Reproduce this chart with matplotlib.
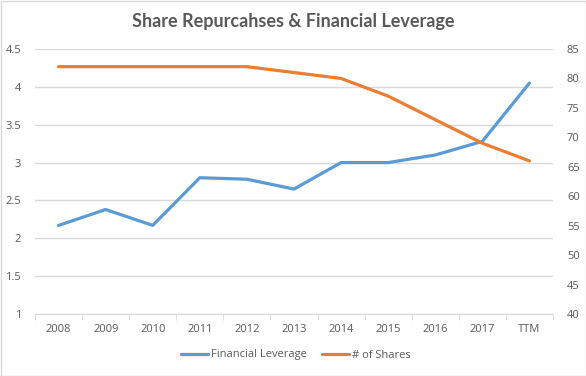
import matplotlib
matplotlib.use("Agg")
import matplotlib.pyplot as plt
from matplotlib.ticker import FixedLocator
import numpy as np

categories = ["2008", "2009", "2010", "2011", "2012", "2013", "2014", "2015", "2016", "2017", "TTM"]
leverage = [2.17, 2.38, 2.17, 2.80, 2.78, 2.65, 3.00, 3.00, 3.10, 3.28, 4.05]
shares = [82, 82, 82, 82, 82, 81, 80, 77, 73, 69, 66]
left_ticks = [1, 1.5, 2, 2.5, 3, 3.5, 4, 4.5]
right_ticks = [40, 45, 50, 55, 60, 65, 70, 75, 80, 85]

plt.rcParams['font.family'] = ['Open Sans', 'DejaVu Sans']
txt = "#595959"
grid = "#d9d9d9"

fig = plt.figure(figsize=(5.86, 3.76), dpi=100)
fig.patch.set_facecolor("white")
fig.add_artist(plt.Rectangle((0.5/586, 0.5/376), 1 - 1/586, 1 - 1/376, transform=fig.transFigure,
                             fill=False, edgecolor="#d9d9d9", linewidth=1))

ax = fig.add_axes([35/586, 1 - 314/376, (553 - 35)/586, (314 - 49)/376])
x = np.arange(len(categories))
ax.set_xlim(-0.5, len(categories) - 0.5)
ax.set_ylim(1, 4.5)
ax.set_yticks(left_ticks)
ax.set_yticklabels([f"{t:g}" for t in left_ticks])
ax.yaxis.grid(True, color=grid, linewidth=1)
ax.set_axisbelow(True)
for s in ["top", "right", "left"]:
    ax.spines[s].set_visible(False)
ax.spines["bottom"].set_color(grid)
ax.tick_params(axis="y", length=0, colors=txt, labelsize=8, pad=10)
ax.set_xticks(x)
ax.set_xticklabels(categories)
ax.tick_params(axis="x", length=0, colors=txt, labelsize=8, pad=7)
ax.xaxis.set_minor_locator(FixedLocator(np.arange(-0.5, len(categories), 1.0)))
ax.tick_params(axis="x", which="minor", length=4, color=grid)

l1, = ax.plot(x, leverage, color="#5B9BD5", linewidth=2.3, solid_capstyle="round", zorder=3,
              label="Financial Leverage")

ax2 = ax.twinx()
ax2.set_ylim(40, 85)
ax2.set_yticks(right_ticks)
for s in ["top", "right", "left", "bottom"]:
    ax2.spines[s].set_visible(False)
ax2.tick_params(axis="y", length=0, colors=txt, labelsize=8, pad=10)
l2, = ax2.plot(x, shares, color="#ED7D31", linewidth=2.3, solid_capstyle="round", zorder=3,
               label="# of Shares")

fig.text(0.5, 1 - 22/376, "Share Repurcahses & Financial Leverage", ha="center", va="center",
         fontsize=13, fontweight="bold", color=txt, family=["Lato", "DejaVu Sans"])

fig.legend(handles=[l1, l2], loc="center", bbox_to_anchor=(0.505, 1 - 355/376), ncol=2,
           frameon=False, fontsize=8, labelcolor=txt, handlelength=2.4, columnspacing=1.4,
           handletextpad=0.3)

fig.savefig("out.png", dpi=100)
